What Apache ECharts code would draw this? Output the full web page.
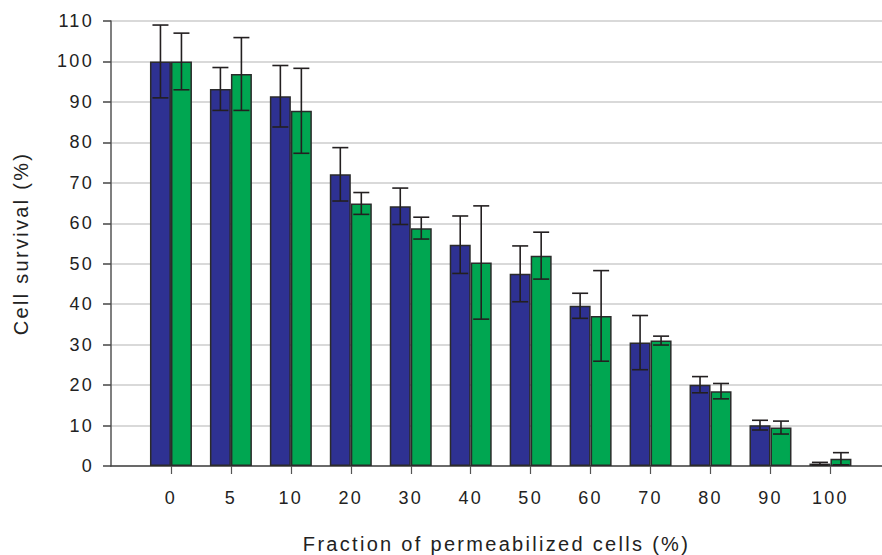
<!DOCTYPE html>
<html>
<head>
<meta charset="utf-8">
<script src="https://cdn.jsdelivr.net/npm/echarts@6/dist/echarts.min.js"></script>
<style>
  html, body { margin: 0; padding: 0; background: #fff; }
  #chart { width: 882px; height: 555px; }
  #chart text { letter-spacing: 2.3px; }
</style>
</head>
<body>
<div id="chart"></div>
<script>
// Fraction of permeabilized cells (%) on the x axis
const categories = ['0', '5', '10', '20', '30', '40', '50', '60', '70', '80', '90', '100'];
// Mean cell survival (%) for the two series
const blueValues  = [100, 93.2, 91.4, 72.1, 64.2, 54.7, 47.5, 39.6, 30.5, 20.1, 10.1, 0.6];
const greenValues = [100, 96.9, 87.8, 64.9, 58.8, 50.3, 52.0, 37.1, 31.0, 18.5, 9.5, 1.8];
// Standard deviations (symmetric error bars)
const blueErrors  = [9.0, 5.3, 7.6, 6.6, 4.5, 7.1, 6.9, 3.1, 6.7, 2.0, 1.2, 0.3];
const greenErrors = [7.0, 9.0, 10.5, 2.7, 2.7, 14.0, 5.8, 11.2, 1.1, 1.9, 1.6, 1.5];
// Y axis ticks
const yTicks = [0, 10, 20, 30, 40, 50, 60, 70, 80, 90, 100, 110];

const BAR_W = 21;
const FONT = '"Liberation Sans", Arial, sans-serif';

const chart = echarts.init(document.getElementById('chart'), null, { renderer: 'svg' });

const idx = categories.map((_, i) => i);

function errorSeries(values, errors, side) {
  return {
    type: 'custom',
    z: 5,
    silent: true,
    data: values.map((v, i) => [i, v, errors[i]]),
    renderItem: function (params, api) {
      const x = api.value(0), v = api.value(1), e = api.value(2);
      const mid = api.coord([x, v]);
      const hi = api.coord([x, v + e]);
      const lo = api.coord([x, Math.max(v - e, 0)]);
      const cx = mid[0] + side * BAR_W / 2;
      const cap = 8;
      const style = { stroke: '#231f20', lineWidth: 1.6 };
      return {
        type: 'group',
        children: [
          { type: 'line', shape: { x1: cx, y1: hi[1], x2: cx, y2: lo[1] }, style: style },
          { type: 'line', shape: { x1: cx - cap, y1: hi[1], x2: cx + cap, y2: hi[1] }, style: style },
          { type: 'line', shape: { x1: cx - cap, y1: lo[1], x2: cx + cap, y2: lo[1] }, style: style }
        ]
      };
    }
  };
}

chart.setOption({
  animation: false,
  backgroundColor: '#ffffff',
  tooltip: { show: false },
  grid: { left: 111, right: 0, top: 21, bottom: 89, containLabel: false, outerBoundsMode: 'none' },
  xAxis: {
    type: 'value',
    min: -1,
    max: 11.86,
    interval: 1,
    name: 'Fraction of permeabilized cells (%)',
    nameLocation: 'middle',
    nameGap: 68,
    nameTextStyle: { fontFamily: FONT, fontSize: 20, color: '#222' },
    axisLine: { show: true, onZero: true, lineStyle: { color: '#444', width: 1.5 } },
    axisTick: { show: true, length: 8, customValues: idx, lineStyle: { color: '#555', width: 1.2 } },
    axisLabel: {
      customValues: idx,
      margin: 23,
      fontFamily: FONT, fontSize: 18, color: '#222',
      formatter: v => categories[v] ?? ''
    },
    splitLine: { show: false }
  },
  yAxis: {
    type: 'value',
    min: 0,
    max: 110,
    interval: 10,
    name: 'Cell survival (%)',
    nameLocation: 'middle',
    nameGap: 80,
    nameTextStyle: { fontFamily: FONT, fontSize: 20, color: '#222' },
    axisLine: { show: true, onZero: false, lineStyle: { color: '#555', width: 1.5 } },
    axisTick: { show: true, length: 8, lineStyle: { color: '#444', width: 1.5 } },
    axisLabel: {
      margin: 17,
      fontFamily: FONT, fontSize: 18, color: '#222',
      formatter: v => yTicks.includes(v) ? String(v) : ''
    },
    splitLine: { show: true, lineStyle: { color: '#cccccc', width: 1.5 } }
  },
  series: [
    {
      type: 'bar',
      data: blueValues.map((v, i) => [i, v]),
      barWidth: BAR_W,
      barGap: '0%',
      itemStyle: { color: '#2e3192', borderColor: '#2b2b2b', borderWidth: 1.5 }
    },
    {
      type: 'bar',
      data: greenValues.map((v, i) => [i, v]),
      barWidth: BAR_W,
      barGap: '0%',
      itemStyle: { color: '#00a651', borderColor: '#2b2b2b', borderWidth: 1.5 }
    },
    errorSeries(blueValues, blueErrors, -1),
    errorSeries(greenValues, greenErrors, 1)
  ]
});
</script>
</body>
</html>
